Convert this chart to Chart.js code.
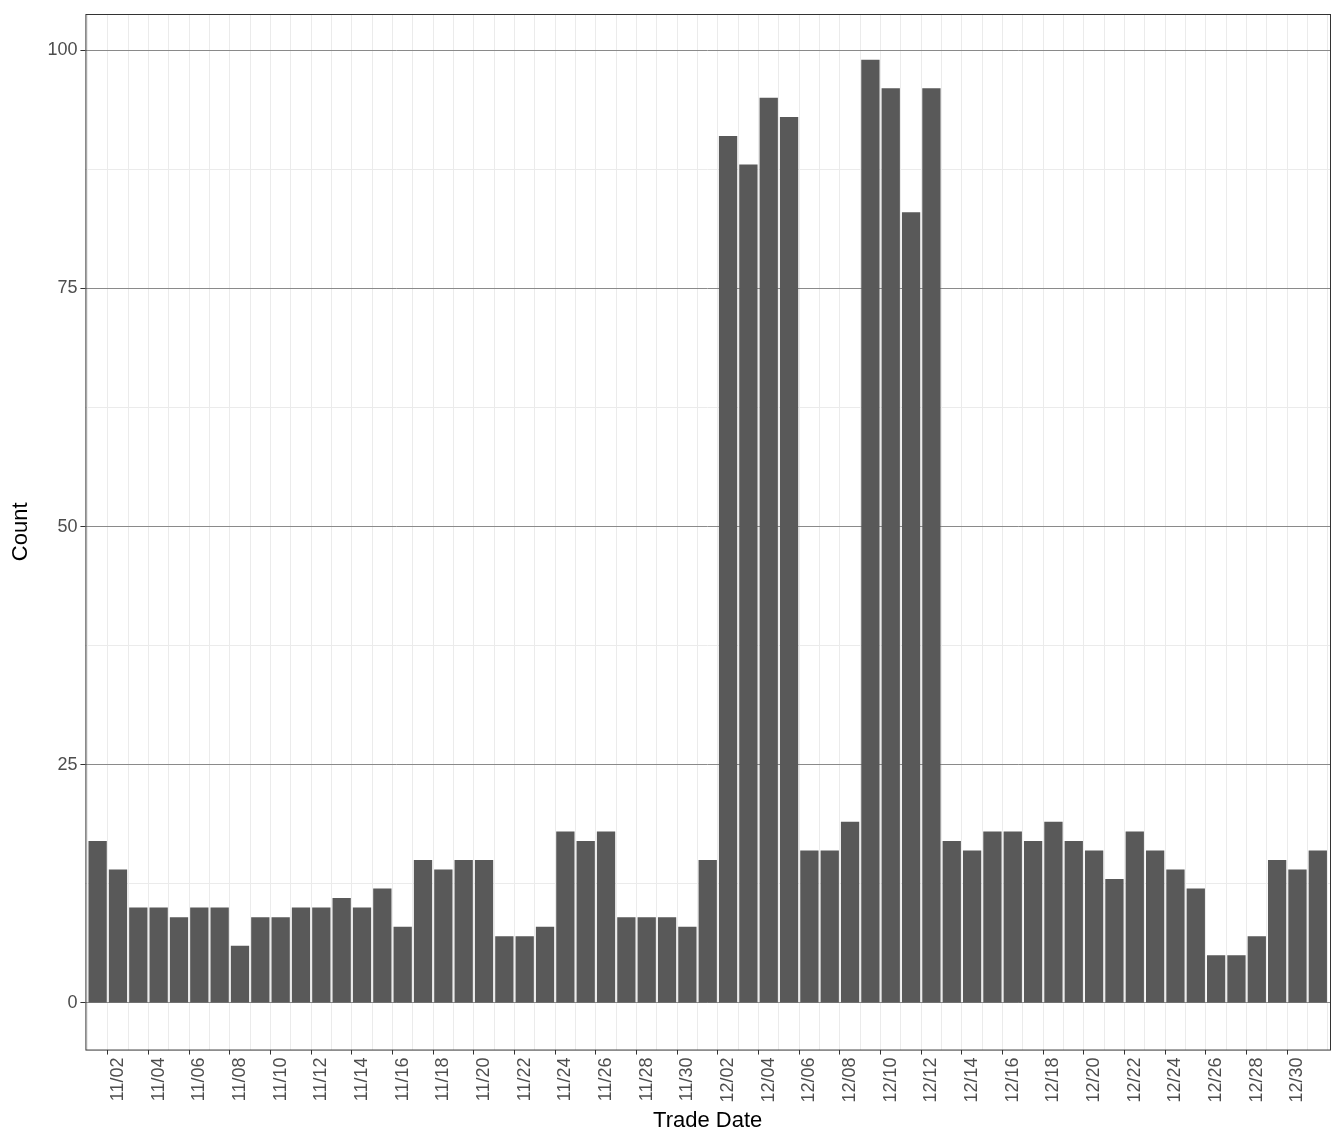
<!DOCTYPE html>
<html><head><meta charset="utf-8">
<script src="https://cdn.jsdelivr.net/npm/chart.js@4"></script>
<style>html,body{margin:0;padding:0;background:#fff}#w{width:1344px;height:1142px}</style>
</head><body><div id="w"><canvas id="c"></canvas></div>
<script>
const dates = [];
for (let d=1; d<=30; d++) dates.push('11/'+String(d).padStart(2,'0'));
for (let d=1; d<=31; d++) dates.push('12/'+String(d).padStart(2,'0'));
const counts = [17,14,10,10,9,10,10,6,9,9,10,10,11,10,12,8,15,14,15,15,7,7,8,18,17,18,9,9,9,8,
  15,91,88,95,93,16,16,19,99,96,83,96,17,16,18,18,17,19,17,16,13,18,16,14,12,5,5,7,15,14,16];
const yTicks = [0,25,50,75,100];

const tv = (c)=> (c && c.tick) ? c.tick.value : NaN;
const isMajX = (c)=> (Math.round(tv(c))-1)%2===1;
const frame = {id:'frame', afterDraw(ch){const a=ch.chartArea,c=ch.ctx;c.save();c.strokeStyle='#333';c.lineWidth=1;c.strokeRect(a.left+0.5,a.top+0.5,a.right-a.left,a.bottom-a.top);c.restore();}};
const F = 'Liberation Sans, Arial, sans-serif';
new Chart(document.getElementById('c'), {
  type:'bar',
  data:{datasets:[{data:counts.map((v,i)=>({x:i+1,y:v})),backgroundColor:'#595959',barPercentage:0.9,categoryPercentage:1}]},
  options:{responsive:true,maintainAspectRatio:false,animation:false,
    layout:{padding:{top:14,right:14,left:4,bottom:4}},
    plugins:{legend:{display:false},tooltip:{enabled:false}},
    scales:{
      x:{type:'linear',min:0.4,max:61.6,offset:false,
        afterBuildTicks(s){s.ticks=dates.map((d,i)=>({value:i+1}));},
        ticks:{autoSkip:false,maxRotation:90,minRotation:90,color:'#4d4d4d',font:{family:F,size:18},
          callback:(v)=>{const i=Math.round(v)-1;return (i%2===1)?dates[i]:'';}},
        grid:{color:'#ebebeb',drawTicks:true,tickLength:5,tickColor:(c)=>isMajX(c)?'#333':'rgba(0,0,0,0)'},
        border:{display:false},
        title:{display:true,text:'Trade Date',color:'#000',font:{family:F,size:22},padding:{top:2}}},
      y:{min:-4.9,max:103.8,
        afterBuildTicks(s){s.ticks=[0,12.5,25,37.5,50,62.5,75,87.5,100].map(v=>({value:v}));},
        ticks:{color:'#4d4d4d',font:{family:F,size:18},callback:(v)=>yTicks.includes(v)?String(v):''},
        grid:{color:(c)=>yTicks.includes(tv(c))?'#8a8a8a':'#ebebeb',tickLength:5,
          tickColor:(c)=>yTicks.includes(tv(c))?'#333':'rgba(0,0,0,0)'},
        border:{display:false},
        title:{display:true,text:'Count',color:'#000',font:{family:F,size:22},padding:{bottom:10}}}
    }},
  plugins:[frame]
});
</script></body></html>
